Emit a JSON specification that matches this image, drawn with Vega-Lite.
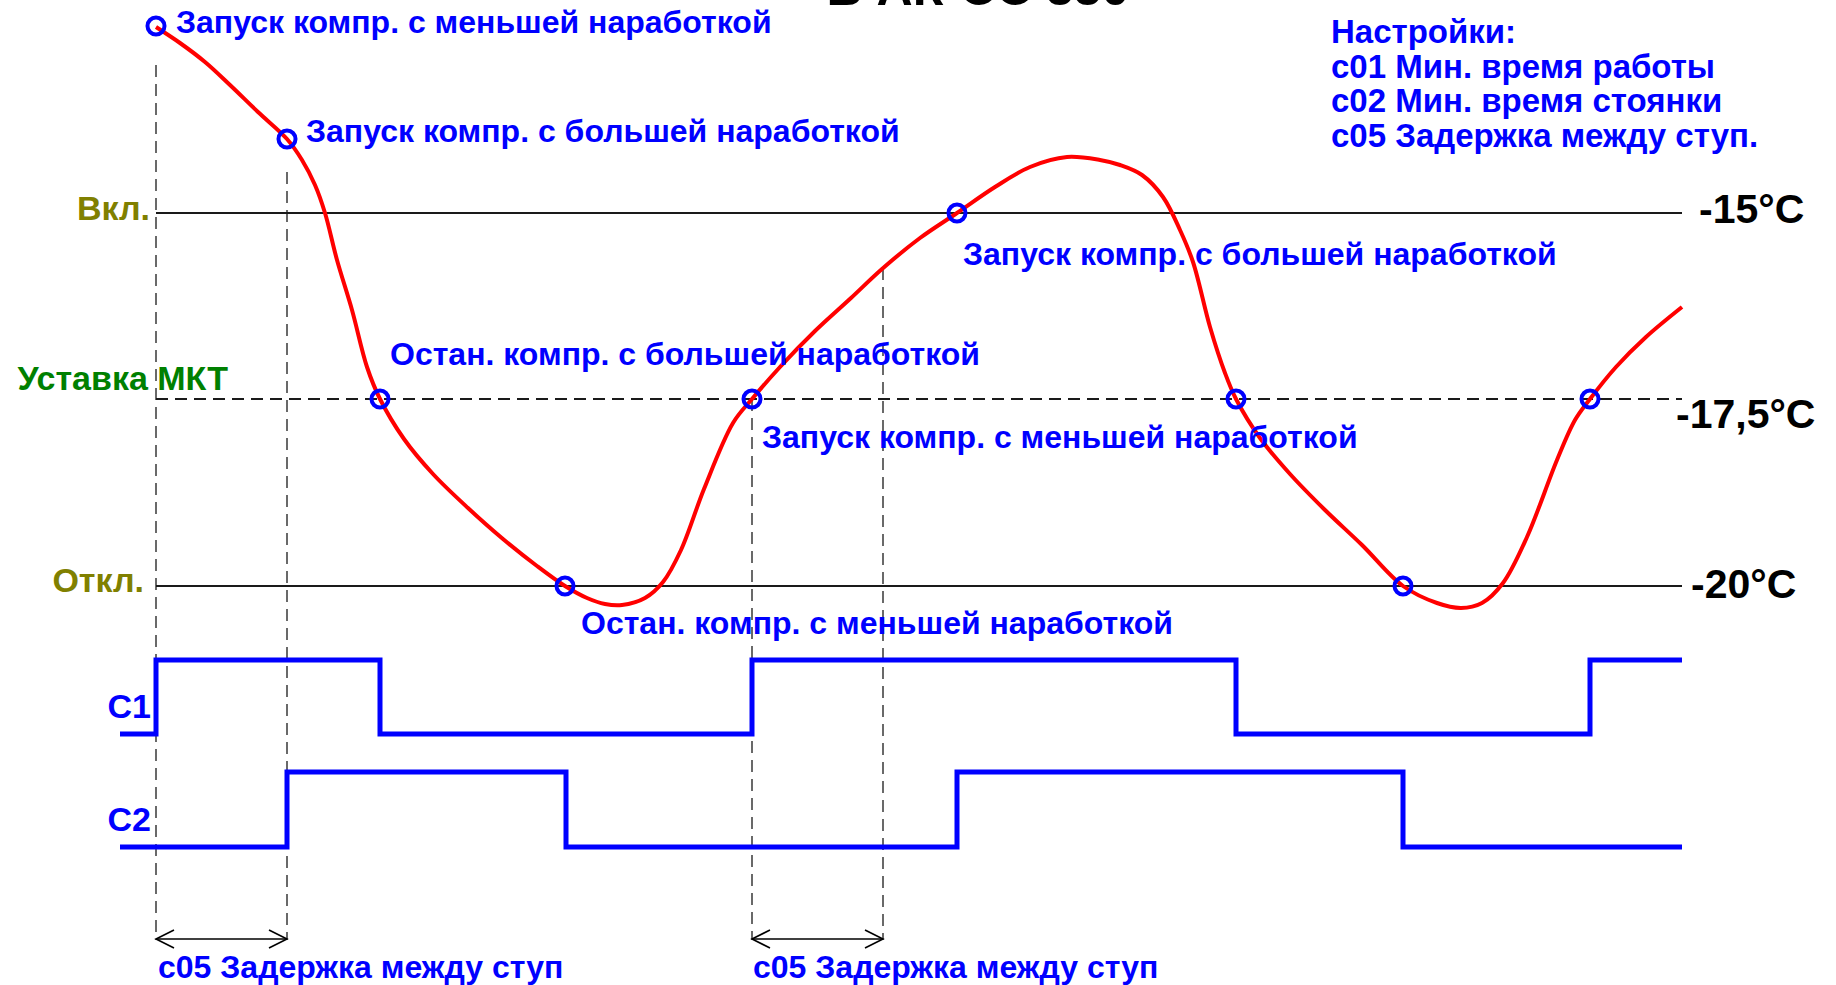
{
  "$schema": "https://vega.github.io/schema/vega-lite/v6.json",
  "width": 1836,
  "height": 985,
  "padding": 0,
  "autosize": {"type": "none"},
  "background": "white",
  "config": {"view": {"stroke": null}},
  "datasets": {
    "curve": [
      {"t": 156, "v": 27}, {"t": 180, "v": 43}, {"t": 205, "v": 62}, {"t": 230, "v": 85}, {"t": 258, "v": 112},
      {"t": 287, "v": 139}, {"t": 302, "v": 160}, {"t": 315, "v": 185}, {"t": 325, "v": 213}, {"t": 337, "v": 260},
      {"t": 352, "v": 310}, {"t": 367, "v": 367}, {"t": 380, "v": 399}, {"t": 404, "v": 439}, {"t": 433, "v": 474},
      {"t": 468, "v": 508}, {"t": 503, "v": 539}, {"t": 537, "v": 566}, {"t": 565, "v": 586}, {"t": 587, "v": 598},
      {"t": 605, "v": 604}, {"t": 622, "v": 605}, {"t": 645, "v": 598}, {"t": 663, "v": 582}, {"t": 681, "v": 550},
      {"t": 704, "v": 489}, {"t": 733, "v": 423}, {"t": 752, "v": 399}, {"t": 780, "v": 367}, {"t": 815, "v": 331},
      {"t": 851, "v": 298}, {"t": 882, "v": 269}, {"t": 920, "v": 238}, {"t": 957, "v": 213}, {"t": 995, "v": 187},
      {"t": 1030, "v": 167}, {"t": 1067, "v": 157}, {"t": 1100, "v": 160}, {"t": 1120, "v": 165}, {"t": 1142, "v": 175},
      {"t": 1163, "v": 197}, {"t": 1180, "v": 230}, {"t": 1193, "v": 262}, {"t": 1210, "v": 327}, {"t": 1225, "v": 373},
      {"t": 1236, "v": 399}, {"t": 1260, "v": 438}, {"t": 1290, "v": 474}, {"t": 1325, "v": 510}, {"t": 1362, "v": 545},
      {"t": 1403, "v": 586}, {"t": 1437, "v": 603}, {"t": 1461, "v": 608}, {"t": 1482, "v": 603}, {"t": 1503, "v": 583},
      {"t": 1527, "v": 537}, {"t": 1557, "v": 460}, {"t": 1575, "v": 420}, {"t": 1590, "v": 399},
      {"t": 1616, "v": 367}, {"t": 1646, "v": 337}, {"t": 1682, "v": 307}
    ],
    "events": [
      {"t": 156, "v": 26}, {"t": 287, "v": 139}, {"t": 380, "v": 399}, {"t": 565, "v": 586}, {"t": 752, "v": 399},
      {"t": 957, "v": 213}, {"t": 1236, "v": 399}, {"t": 1403, "v": 586}, {"t": 1590, "v": 399}
    ],
    "levels_solid": [
      {"t": 156, "t2": 1682, "v": 213}, {"t": 156, "t2": 1682, "v": 586}
    ],
    "levels_dashed": [
      {"t": 156, "t2": 1682, "v": 399}
    ],
    "markers": [
      {"t": 156, "v": 65, "v2": 940}, {"t": 287, "v": 172, "v2": 940},
      {"t": 752, "v": 399, "v2": 940}, {"t": 883, "v": 268, "v2": 940}
    ],
    "c1": [
      {"t": 120, "v": 734}, {"t": 156, "v": 660}, {"t": 380, "v": 734}, {"t": 752, "v": 660},
      {"t": 1236, "v": 734}, {"t": 1590, "v": 660}, {"t": 1682, "v": 660}
    ],
    "c2": [
      {"t": 120, "v": 847}, {"t": 287, "v": 772}, {"t": 566, "v": 847}, {"t": 957, "v": 772},
      {"t": 1403, "v": 847}, {"t": 1682, "v": 847}
    ],
    "arrows": [
      {"t": 156, "t2": 287, "v": 939}, {"t": 752, "t2": 883, "v": 939}
    ],
    "notes": [
      {"t": 176, "v": 33, "label": "Запуск компр. с меньшей наработкой"},
      {"t": 306, "v": 142, "label": "Запуск компр. с большей наработкой"},
      {"t": 963, "v": 265, "label": "Запуск компр. с большей наработкой"},
      {"t": 390, "v": 365, "label": "Остан. компр. с большей наработкой"},
      {"t": 762, "v": 448, "label": "Запуск компр. с меньшей наработкой"},
      {"t": 581, "v": 634, "label": "Остан. компр. с меньшей наработкой"},
      {"t": 158, "v": 978, "label": "c05 Задержка между ступ"},
      {"t": 753, "v": 978, "label": "c05 Задержка между ступ"}
    ],
    "settings": [
      {"t": 1331, "v": 43, "label": "Настройки:"},
      {"t": 1331, "v": 78, "label": "c01 Мин. время работы"},
      {"t": 1331, "v": 112, "label": "c02 Мин. время стоянки"},
      {"t": 1331, "v": 147, "label": "c05 Задержка между ступ."}
    ],
    "levelnames": [
      {"t": 150, "v": 220, "label": "Вкл.", "kind": "olive"},
      {"t": 144, "v": 592, "label": "Откл.", "kind": "olive"},
      {"t": 228, "v": 390, "label": "Уставка МКТ", "kind": "green"},
      {"t": 151, "v": 718, "label": "C1", "kind": "blue"},
      {"t": 151, "v": 831, "label": "C2", "kind": "blue"}
    ],
    "temps": [
      {"t": 1699, "v": 223, "label": "-15°C"},
      {"t": 1676, "v": 428, "label": "-17,5°C"},
      {"t": 1691, "v": 598, "label": "-20°C"}
    ],
    "title": [
      {"t": 978, "v": 5, "label": "В АК-СС 550"}
    ]
  },
  "encoding": {
    "x": {"field": "t", "type": "quantitative", "scale": {"domain": [0, 1836], "nice": false, "zero": false}, "axis": null},
    "y": {"field": "v", "type": "quantitative", "scale": {"domain": [0, 985], "nice": false, "zero": false, "reverse": true}, "axis": null}
  },
  "layer": [
    {
      "data": {"name": "levels_solid"},
      "mark": {"type": "rule", "stroke": "#1a1a1a", "strokeWidth": 2},
      "encoding": {"x2": {"field": "t2"}}
    },
    {
      "data": {"name": "levels_dashed"},
      "mark": {"type": "rule", "stroke": "#1a1a1a", "strokeWidth": 2, "strokeDash": [12, 7]},
      "encoding": {"x2": {"field": "t2"}}
    },
    {
      "data": {"name": "markers"},
      "mark": {"type": "rule", "stroke": "#1a1a1a", "strokeWidth": 1.3, "strokeDash": [12, 7]},
      "encoding": {"y2": {"field": "v2"}}
    },
    {
      "data": {"name": "arrows"},
      "mark": {"type": "rule", "stroke": "black", "strokeWidth": 1.6},
      "encoding": {"x2": {"field": "t2"}}
    },
    {
      "data": {"name": "arrows"},
      "mark": {"type": "point", "shape": "M 2 -1 L 0 0 L 2 1", "filled": false, "stroke": "black", "strokeWidth": 1.6, "size": 324, "opacity": 1}
    },
    {
      "data": {"name": "arrows"},
      "mark": {"type": "point", "shape": "M -2 -1 L 0 0 L -2 1", "filled": false, "stroke": "black", "strokeWidth": 1.6, "size": 324, "opacity": 1},
      "encoding": {"x": {"field": "t2", "type": "quantitative"}}
    },
    {
      "data": {"name": "c1"},
      "mark": {"type": "line", "interpolate": "step-after", "stroke": "#0000FF", "strokeWidth": 5},
      "encoding": {}
    },
    {
      "data": {"name": "c2"},
      "mark": {"type": "line", "interpolate": "step-after", "stroke": "#0000FF", "strokeWidth": 5},
      "encoding": {}
    },
    {
      "data": {"name": "curve"},
      "mark": {"type": "line", "interpolate": "catmull-rom", "stroke": "#FF0000", "strokeWidth": 4},
      "encoding": {}
    },
    {
      "data": {"name": "events"},
      "mark": {"type": "point", "shape": "circle", "filled": false, "stroke": "#0000FF", "strokeWidth": 4, "size": 290, "opacity": 1}
    },
    {
      "data": {"name": "notes"},
      "mark": {"type": "text", "align": "left", "baseline": "alphabetic", "font": "Liberation Sans", "fontWeight": "bold", "fontSize": 32, "fill": "#0000FF"},
      "encoding": {"text": {"field": "label"}}
    },
    {
      "data": {"name": "settings"},
      "mark": {"type": "text", "align": "left", "baseline": "alphabetic", "font": "Liberation Sans", "fontWeight": "bold", "fontSize": 33, "fill": "#0000FF"},
      "encoding": {"text": {"field": "label"}}
    },
    {
      "data": {"name": "levelnames"},
      "mark": {"type": "text", "align": "right", "baseline": "alphabetic", "font": "Liberation Sans", "fontWeight": "bold", "fontSize": 34},
      "encoding": {
        "text": {"field": "label"},
        "color": {"field": "kind", "type": "nominal", "scale": {"domain": ["olive", "green", "blue"], "range": ["#808000", "#008000", "#0000FF"]}, "legend": null}
      }
    },
    {
      "data": {"name": "temps"},
      "mark": {"type": "text", "align": "left", "baseline": "alphabetic", "font": "Liberation Sans", "fontWeight": "bold", "fontSize": 41, "fill": "black"},
      "encoding": {"text": {"field": "label"}}
    },
    {
      "data": {"name": "title"},
      "mark": {"type": "text", "align": "center", "baseline": "alphabetic", "font": "Liberation Sans", "fontWeight": "bold", "fontSize": 50, "fill": "black"},
      "encoding": {"text": {"field": "label"}}
    }
  ]
}
